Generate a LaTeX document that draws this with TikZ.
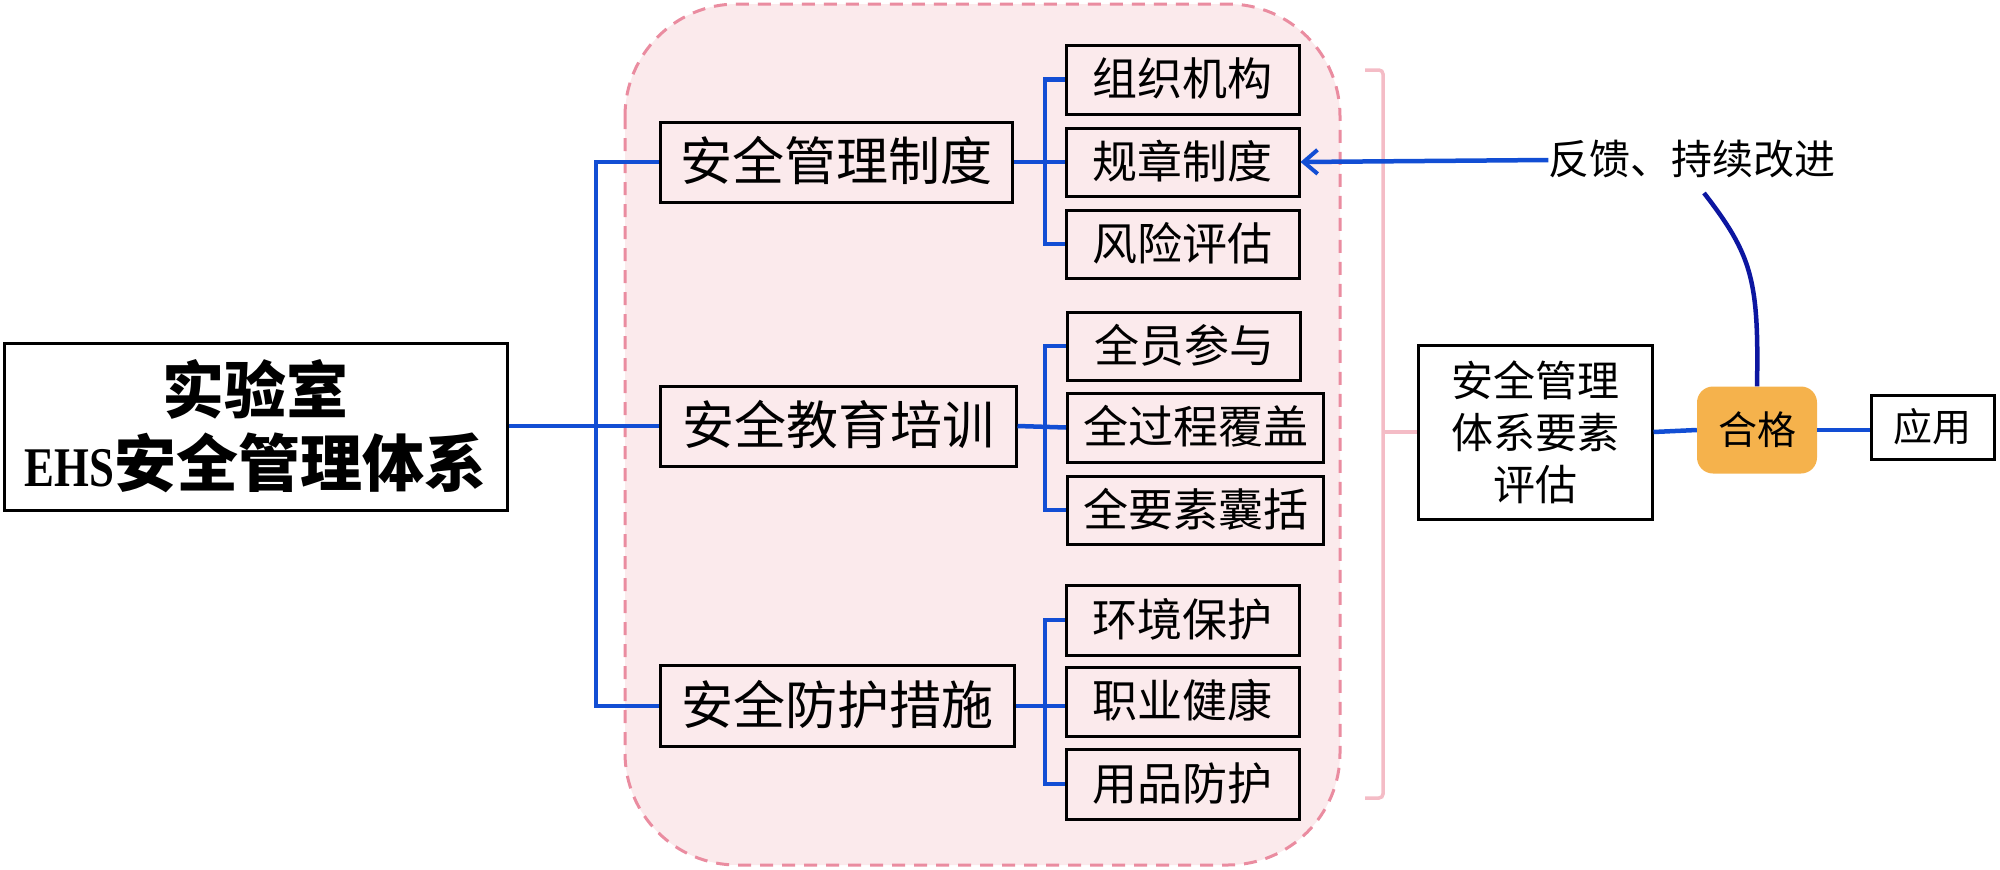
\documentclass[tikz,border=0pt]{standalone}
\usepackage{fontspec}
\usepackage{graphicx}
\setmainfont{Liberation Serif}
\newfontfamily\cjk{Noto Sans CJK SC}
\usetikzlibrary{arrows.meta}
\newcommand\myfs[1]{\fontsize{#1pt}{#1pt}\selectfont}
\definecolor{lineblue}{RGB}{18,78,212}
\definecolor{navy}{RGB}{12,22,160}
\definecolor{pinkfill}{RGB}{251,234,236}
\definecolor{pinkdash}{RGB}{234,140,160}
\definecolor{pinkbr}{RGB}{244,188,198}
\definecolor{okorange}{RGB}{245,178,76}
\tikzset{
  fsz/.style={font=\cjk\myfs{#1}, text height=#1pt*0.86, text depth=#1pt*0.14},
  box/.style={draw=black, line width=3pt, rectangle, inner sep=0pt},
  conn/.style={draw=lineblue, line width=4.5pt},
}
\begin{document}
\begin{tikzpicture}[x=1pt,y=-1pt]
\useasboundingbox (0,0) rectangle (2000,870);
% pink dashed background
\draw[fill=pinkfill, draw=pinkdash, line width=3pt, dash pattern=on 13pt off 9pt, rounded corners=112pt]
  (625,4) rectangle (1340,865);
% main box
\node[box, fill=white, minimum width=503pt, minimum height=167pt, align=center,
  font=\cjk\bfseries\fontsize{62pt}{73pt}\selectfont]
  (main) at (255.5,426.5) {实验室\\{\rmfamily\bfseries\fontsize{56pt}{73pt}\selectfont\scalebox{0.8}[1]{EHS}}安全管理体系};
% level 1
\node[box, minimum width=352pt, minimum height=80pt, fsz=52] (b1) at (836,162) {安全管理制度};
\node[box, minimum width=356pt, minimum height=80pt, fsz=52] (b2) at (838,426) {安全教育培训};
\node[box, minimum width=354pt, minimum height=81pt, fsz=52] (b3) at (837,706) {安全防护措施};
% level 2
\node[box, minimum width=233pt, minimum height=69pt, fsz=45] (s11) at (1182.5,79.5) {组织机构};
\node[box, minimum width=233pt, minimum height=68pt, fsz=45] (s12) at (1182.5,162) {规章制度};
\node[box, minimum width=233pt, minimum height=68pt, fsz=45] (s13) at (1182.5,244) {风险评估};
\node[box, minimum width=233pt, minimum height=68pt, fsz=45] (s21) at (1184,346) {全员参与};
\node[box, minimum width=256pt, minimum height=69pt, fsz=45] (s22) at (1195.5,427.5) {全过程覆盖};
\node[box, minimum width=256pt, minimum height=68pt, fsz=45] (s23) at (1195.5,510) {全要素囊括};
\node[box, minimum width=233pt, minimum height=70pt, fsz=45] (s31) at (1182.5,620) {环境保护};
\node[box, minimum width=233pt, minimum height=69pt, fsz=45] (s32) at (1182.5,701.5) {职业健康};
\node[box, minimum width=233pt, minimum height=70pt, fsz=45] (s33) at (1182.5,784) {用品防护};
% right side
\node[box, fill=white, minimum width=234pt, minimum height=174pt, align=center,
  font=\cjk\fontsize{42pt}{52pt}\selectfont] (eval) at (1535,432) {安全管理\\体系要素\\评估};
\node[rectangle, fill=okorange, rounded corners=16pt, minimum width=120pt, minimum height=87pt,
  inner sep=0pt, fsz=39] (ok) at (1757,430) {合格};
\node[box, fill=white, minimum width=123pt, minimum height=64pt, fsz=39] (app) at (1932.5,427) {应用};
\node[inner sep=0pt, fsz=41] (fb) at (1692,160) {反馈、持续改进};
\coordinate (fbend) at (1704,193);
% bracket
\coordinate (brtop) at (1365,70);
\coordinate (brbot) at (1365,798);
\draw[draw=pinkbr, line width=3.5pt, rounded corners=4pt] (brtop) -- (1383,70) -- (1383,798) -- (brbot);
\draw[draw=pinkbr, line width=3.5pt] (1383,432) -- (eval.west);
% main spine
\draw[conn] (main.east |- b2.west) -- (b2.west);
\draw[conn] (b1.west) -- (596,162) -- (596,706) -- (b3.west);
% sub spines
\draw[conn] (b1.east) -- (s12.west);
\draw[conn] (s11.west) -- (1045,79.5) -- (1045,244) -- (s13.west);
\draw[conn] (b2.east) -- (s22.west);
\draw[conn] (s21.west) -- (1045,346) -- (1045,510) -- (s23.west);
\draw[conn] (b3.east) -- (s32.west |- b3.east);
\draw[conn] (s31.west) -- (1045,620) -- (1045,784) -- (s33.west);
% right connectors
\draw[conn] (eval.east) -- (ok.west);
\draw[conn] (ok.east) -- (app.west |- ok.east);
\draw[conn, -{Straight Barb[length=14pt,width=24pt,line width=4pt]}] (fb.west) -- (s12.east);
\draw[draw=navy, line width=4.5pt] (ok.north) .. controls (1759,280) and (1752,255) .. (fbend);
\end{tikzpicture}
\end{document}
